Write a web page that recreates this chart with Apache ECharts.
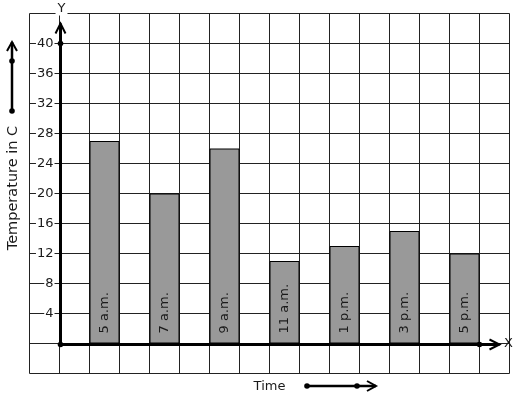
<!DOCTYPE html>
<html><head><meta charset="utf-8">
<script src="https://cdn.jsdelivr.net/npm/echarts@6/dist/echarts.min.js"></script>
<style>html,body{margin:0;padding:0;background:#fff}#c{width:517px;height:399px}</style>
</head><body><div id="c"></div>
<script>
// ---- data ----
const times = ['5 a.m.', '7 a.m.', '9 a.m.', '11 a.m.', '1 p.m.', '3 p.m.', '5 p.m.'];
const temps = [27, 20, 26, 11, 13, 15, 12];
const yTickLabels = [4, 8, 12, 16, 20, 24, 28, 32, 36, 40];
const yMin = -4, yMax = 44, yStep = 4;
const slotCount = 16;      // grid columns
const originSlot = 1;      // y axis sits on the left edge of this column
const xAxisName = 'Time';
const yAxisName = 'Temperature in C';

// ---- layout derived from data ----
const slots = Array.from({length: slotCount}, (_, i) => 's' + i);
const slotOf = i => originSlot + 1 + 2 * i;
const barData = slots.map(() => '-');
const labelBySlot = slots.map(() => '');
times.forEach((t, i) => { barData[slotOf(i)] = temps[i]; labelBySlot[slotOf(i)] = t; });

const FONT = 'DejaVu Sans';
const INK = '#1a1a1a';
const chart = echarts.init(document.getElementById('c'), null, {renderer: 'canvas'});
chart.setOption({
  animation: false,
  backgroundColor: '#fff',
  textStyle: {fontFamily: FONT},
  grid: {left: 29.5, top: 13.5, width: 480, height: 360, containLabel: false, outerBoundsMode: 'none'},
  xAxis: {
    type: 'category', data: slots, boundaryGap: true,
    axisLine: {show: false}, axisTick: {show: false}, axisLabel: {show: false},
    splitLine: {show: true, interval: 0, lineStyle: {color: '#222', width: 1}},
    name: xAxisName, nameLocation: 'middle', nameGap: 7,
    nameTextStyle: {fontSize: 13, color: INK, fontFamily: FONT}
  },
  yAxis: {
    type: 'value', min: yMin, max: yMax, interval: yStep, offset: -30,
    axisLine: {show: false}, axisTick: {show: false},
    axisLabel: {
      fontSize: 13, color: INK, fontFamily: FONT, margin: 5,
      backgroundColor: '#fff', padding: [0, 1],
      formatter: v => yTickLabels.includes(v) ? String(v) : ''
    },
    splitLine: {show: true, lineStyle: {color: '#222', width: 1}}
  },
  series: [{
    type: 'bar', data: barData, barWidth: '100%', z: 3,
    itemStyle: {color: '#999999', borderColor: '#000', borderWidth: 1},
    label: {
      show: true, position: 'insideBottom', rotate: 90, align: 'left', verticalAlign: 'middle',
      distance: 10, fontSize: 13, color: INK, fontFamily: FONT,
      formatter: p => labelBySlot[p.dataIndex]
    }
  }]
});

// ---- axes decorations from the scales ----
const c0 = chart.convertToPixel({xAxisIndex: 0}, 0);
const c1 = chart.convertToPixel({xAxisIndex: 0}, 1);
const half = (c1 - c0) / 2;
const xLeftEdge = slot => chart.convertToPixel({xAxisIndex: 0}, slot) - half;
const yPix = v => chart.convertToPixel({yAxisIndex: 0}, v);
const ox = Math.round(xLeftEdge(originSlot)) + 0.5;
const oy = Math.round(yPix(0)) + 0.5;
const yEndY = yPix(yTickLabels[yTickLabels.length - 1]);
const xEndX = xLeftEdge(slotOf(times.length - 1) + 1);
const ext = 20, W = 3, R = 2.8;
const blk = {stroke: '#000', lineWidth: W, fill: null};
const g = [];
g.push({type: 'line', shape: {x1: ox, y1: oy, x2: ox, y2: yEndY - ext}, style: blk, z: 10});
g.push({type: 'polyline', shape: {points: [[ox - 5, yEndY - ext + 10], [ox, yEndY - ext], [ox + 5, yEndY - ext + 10]]}, style: {stroke: '#000', lineWidth: 2, fill: null}, z: 10});
g.push({type: 'line', shape: {x1: ox, y1: oy, x2: xEndX + ext, y2: oy}, style: blk, z: 10});
g.push({type: 'polyline', shape: {points: [[xEndX + ext - 10, oy - 5], [xEndX + ext, oy], [xEndX + ext - 10, oy + 5]]}, style: {stroke: '#000', lineWidth: 2, fill: null}, z: 10});
[[ox, oy], [ox, yEndY], [xEndX, oy]].forEach(([x, y]) => g.push({type: 'circle', shape: {cx: x, cy: y, r: R}, style: {fill: '#000'}, z: 11}));
g.push({type: 'text', x: ox + 1, y: 9, style: {text: 'Y', font: '13px ' + FONT, fill: INK, align: 'center', verticalAlign: 'middle', backgroundColor: '#fff', padding: [0, 2]}, z: 12});
g.push({type: 'text', x: xEndX + ext + 9, y: oy - 1, style: {text: 'X', font: '13px ' + FONT, fill: INK, align: 'center', verticalAlign: 'middle'}, z: 12});
// y name and its arrow
g.push({type: 'text', x: 13, y: 188, rotation: Math.PI / 2, style: {text: yAxisName, font: '14.5px ' + FONT, fill: INK, align: 'center', verticalAlign: 'middle'}, z: 12});
g.push({type: 'line', shape: {x1: 12, y1: 111, x2: 12, y2: 42}, style: {stroke: '#000', lineWidth: 2.5}, z: 10});
g.push({type: 'polyline', shape: {points: [[7, 51], [12, 42], [17, 51]]}, style: {stroke: '#000', lineWidth: 2, fill: null}, z: 10});
[[12, 61], [12, 111]].forEach(([x, y]) => g.push({type: 'circle', shape: {cx: x, cy: y, r: 2.8}, style: {fill: '#000'}, z: 11}));
// x name arrow
g.push({type: 'line', shape: {x1: 307, y1: 386, x2: 376, y2: 386}, style: {stroke: '#000', lineWidth: 2.5}, z: 10});
g.push({type: 'polyline', shape: {points: [[367, 381], [376, 386], [367, 391]]}, style: {stroke: '#000', lineWidth: 2, fill: null}, z: 10});
[[307, 386], [357, 386]].forEach(([x, y]) => g.push({type: 'circle', shape: {cx: x, cy: y, r: 2.8}, style: {fill: '#000'}, z: 11}));
chart.setOption({graphic: g});
</script></body></html>
